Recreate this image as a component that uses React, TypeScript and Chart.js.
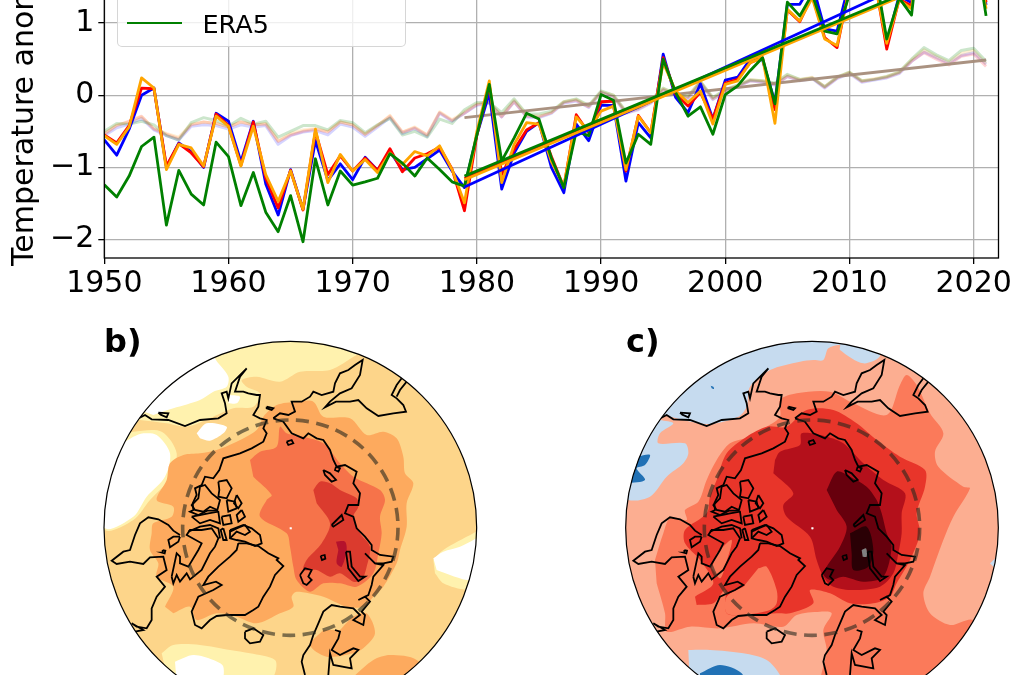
import React, { useEffect, useRef } from "react";
import { Chart, registerables } from "chart.js";

Chart.register(...registerables);

type P = [number, number];
const FONT = '"DejaVu Sans"';

const years = [
  1950, 1951, 1952, 1953, 1954, 1955, 1956, 1957, 1958, 1959,
  1960, 1961, 1962, 1963, 1964, 1965, 1966, 1967, 1968, 1969,
  1970, 1971, 1972, 1973, 1974, 1975, 1976, 1977, 1978, 1979,
  1980, 1981, 1982, 1983, 1984, 1985, 1986, 1987, 1988, 1989,
  1990, 1991, 1992, 1993, 1994, 1995, 1996, 1997, 1998, 1999,
  2000, 2001, 2002, 2003, 2004, 2005, 2006, 2007, 2008, 2009,
  2010, 2011, 2012, 2013, 2014, 2015, 2016, 2017, 2018, 2019,
  2020, 2021,
];

const arcticBlue = [
  -0.62, -0.83, -0.47, 0.0, 0.1, -1.0, -0.66, -0.78, -1.0, -0.25,
  -0.36, -0.92, -0.36, -1.23, -1.66, -1.03, -1.58, -0.63, -1.18, -0.95,
  -1.17, -0.86, -1.04, -0.78, -1.03, -1.0, -0.88, -0.76, -1.05, -1.28,
  -0.55, 0.03, -1.3, -0.8, -0.5, -0.38, -1.0, -1.35, -0.4, -0.63,
  -0.14, -0.14, -1.19, -0.38, -0.59, 0.57, -0.03, -0.24, 0.16, -0.33,
  0.21, 0.25, 0.5, 0.49, -0.1, 1.26, 1.26, 1.55, 0.92, 0.89,
  1.57, 1.85, 1.75, 0.72, 1.38, 1.28, 2.75, 2.1, 1.95, 2.25,
  2.35, 1.25,
];
const arcticRed = [
  -0.55, -0.66, -0.42, 0.1, 0.09, -0.98, -0.67, -0.8, -0.99, -0.26,
  -0.42, -0.97, -0.37, -1.15, -1.56, -1.04, -1.59, -0.5, -1.1, -0.84,
  -1.05, -0.87, -1.04, -0.74, -1.06, -0.87, -0.81, -0.72, -1.02, -1.6,
  -0.55, 0.14, -1.1, -0.75, -0.48, -0.38, -0.85, -1.27, -0.27, -0.52,
  -0.09, -0.08, -1.05, -0.28, -0.52, 0.52, 0.02, -0.15, 0.04, -0.33,
  0.17, 0.22, 0.45, 0.52, -0.2, 1.18, 1.02, 1.38, 0.8, 0.66,
  1.5, 1.7, 1.64, 0.64, 1.33, 1.24, 2.7, 2.05, 1.9, 2.2,
  2.3, 1.29,
];
const arcticOrange = [
  -0.56, -0.68, -0.44, 0.24, 0.1, -1.03, -0.68, -0.73, -0.98, -0.29,
  -0.43, -0.98, -0.43, -1.1, -1.47, -1.05, -1.58, -0.47, -1.21, -0.82,
  -1.05, -0.89, -1.07, -0.8, -0.96, -0.78, -0.84, -0.7, -1.03, -1.49,
  -0.5, 0.2, -1.21, -0.68, -0.38, -0.4, -0.92, -1.26, -0.3, -0.5,
  -0.22, -0.15, -1.03, -0.29, -0.52, 0.45, 0.06, -0.1, 0.06, -0.4,
  0.15, 0.2, 0.45, 0.52, -0.39, 1.19, 1.03, 1.35, 0.78, 0.69,
  1.48, 1.65, 1.6, 0.72, 1.32, 1.2, 2.6, 2.0, 1.85, 2.15,
  2.2, 1.2,
];
const arcticGreen = [
  -1.24, -1.41, -1.12, -0.71, -0.58, -1.8, -1.04, -1.37, -1.52, -0.65,
  -0.85, -1.53, -1.07, -1.62, -1.89, -1.39, -2.03, -0.88, -1.52, -1.05,
  -1.245, -1.2, -1.15, -0.81, -0.94, -1.12, -0.87, -1.03, -1.2, -1.26,
  -0.55, 0.15, -0.91, -0.59, -0.25, -0.33, -0.87, -1.28, -0.5, -0.56,
  0.01, -0.07, -0.94, -0.54, -0.68, 0.5, 0.04, -0.29, -0.16, -0.54,
  0.01, 0.13, 0.34, 0.52, -0.12, 1.29, 1.1, 1.4, 0.89, 0.85,
  1.4, 1.6, 1.78, 0.78, 1.35, 1.11, 2.65, 2.0, 1.9, 2.1,
  2.2, 1.1,
];

const globalBlue = [
  -0.56, -0.45, -0.4, -0.32, -0.48, -0.56, -0.62, -0.43, -0.41, -0.42,
  -0.47, -0.41, -0.44, -0.42, -0.68, -0.56, -0.51, -0.49, -0.55, -0.4,
  -0.44, -0.57, -0.44, -0.31, -0.53, -0.46, -0.57, -0.25, -0.36, -0.25,
  -0.14, -0.11, -0.3, -0.09, -0.3, -0.31, -0.25, -0.11, -0.08, -0.17,
  0.04, -0.02, -0.25, -0.2, -0.11, 0.07, 0.0, -0.05, 0.17, -0.06,
  0.05, 0.12, 0.2, 0.18, 0.14, 0.26, 0.2, 0.23, 0.1, 0.23,
  0.3, 0.18, 0.21, 0.24, 0.3, 0.47, 0.6, 0.52, 0.44, 0.55,
  0.59, 0.43,
];
const globalRed = [
  -0.54, -0.42, -0.36, -0.29, -0.47, -0.54, -0.6, -0.41, -0.37, -0.39,
  -0.44, -0.37, -0.41, -0.4, -0.64, -0.55, -0.5, -0.47, -0.51, -0.37,
  -0.41, -0.54, -0.42, -0.29, -0.51, -0.45, -0.55, -0.24, -0.35, -0.25,
  -0.13, -0.1, -0.3, -0.09, -0.29, -0.3, -0.24, -0.1, -0.07, -0.16,
  0.04, -0.02, -0.24, -0.19, -0.1, 0.08, 0.0, -0.03, 0.17, -0.05,
  0.05, 0.13, 0.2, 0.19, 0.15, 0.26, 0.21, 0.24, 0.11, 0.24,
  0.31, 0.19, 0.22, 0.25, 0.31, 0.47, 0.59, 0.5, 0.42, 0.54,
  0.57, 0.4,
];
const globalOrange = [
  -0.53, -0.41, -0.37, -0.3, -0.46, -0.53, -0.58, -0.4, -0.37, -0.39,
  -0.44, -0.37, -0.41, -0.39, -0.63, -0.53, -0.48, -0.46, -0.5, -0.37,
  -0.41, -0.54, -0.42, -0.28, -0.51, -0.44, -0.55, -0.23, -0.34, -0.23,
  -0.12, -0.09, -0.28, -0.07, -0.27, -0.29, -0.24, -0.09, -0.06, -0.15,
  0.05, 0.0, -0.23, -0.18, -0.09, 0.09, 0.02, -0.02, 0.19, -0.04,
  0.07, 0.14, 0.22, 0.2, 0.16, 0.28, 0.22, 0.25, 0.12, 0.25,
  0.32, 0.2, 0.23, 0.26, 0.32, 0.49, 0.63, 0.54, 0.46, 0.58,
  0.62, 0.44,
];
const globalGreen = [
  -0.5, -0.39, -0.4, -0.36, -0.41, -0.56, -0.62, -0.38, -0.31, -0.35,
  -0.43, -0.32, -0.4, -0.36, -0.58, -0.5, -0.42, -0.42, -0.48, -0.35,
  -0.38, -0.52, -0.41, -0.32, -0.55, -0.5, -0.58, -0.33, -0.39, -0.2,
  -0.1, -0.1, -0.24, -0.05, -0.26, -0.26, -0.22, -0.09, -0.05, -0.14,
  0.06, 0.0, -0.22, -0.17, -0.07, 0.1, 0.02, -0.01, 0.19, -0.03,
  0.08, 0.14, 0.21, 0.2, 0.17, 0.29, 0.22, 0.24, 0.12, 0.25,
  0.32, 0.2, 0.22, 0.26, 0.32, 0.5, 0.66, 0.56, 0.48, 0.62,
  0.65, 0.47,
];

const trendYears = [1979, 2021];
const trendBlue = [-1.27, 2.05];
const trendRed = [-1.15, 1.87];
const trendOrange = [-1.17, 1.86];
const trendGreen = [-1.12, 1.88];
const trendGlobal = [-0.31, 0.49];

// Map regions, in map units of the polar projection (pole near 601, 623).
const coastNorthAmerica: P[] = [[145,295],[165,285],[185,298],[235,300],[285,318],[330,300],[385,295],[410,280],[405,250],[395,220],[410,215],[415,235],[425,190],[470,145],[450,170],[435,215],[460,215],[475,220],[500,225],[510,225],[505,260],[490,285],[510,295],[530,300],[520,325],[530,340],[520,365],[485,385],[450,400],[400,415],[388,450],[370,475],[345,470],[335,495],[315,505],[320,525],[308,550],[310,570],[300,575],[325,585],[352,572],[382,572]];
const coastBay: P[] = [[270,645],[250,632],[235,615],[205,598],[175,592],[150,610],[135,645],[120,690],[100,695],[65,722],[80,732],[120,725],[160,732],[180,712],[220,710],[230,750],[200,770],[225,800],[200,830],[185,865],[185,900],[170,925],[140,920],[125,910],[160,930],[135,935]];
const coastBaffin: P[] = [[245,770],[260,700],[270,710],[270,730],[295,740],[325,690],[335,670],[290,645],[300,630],[335,630],[365,625],[385,655],[375,680],[360,700],[335,750],[300,778],[290,760],[270,785],[260,765],[250,790],[245,770]];
const coastGreenland: P[] = [[445,670],[440,690],[420,710],[385,740],[355,770],[340,795],[378,785],[395,795],[370,810],[325,830],[305,875],[315,915],[335,925],[360,900],[380,888],[410,885],[465,885],[490,870],[505,860],[520,830],[540,800],[555,765],[580,738],[560,720],[565,715],[535,700],[505,678],[470,670],[445,670]];
const coastBanks: P[] = [[385,485],[410,480],[425,505],[410,535],[385,530],[388,510],[385,485]];
const coastVictoria: P[] = [[330,500],[345,495],[365,520],[390,540],[382,570],[360,560],[340,575],[315,570],[305,555],[325,535],[330,500]];
const coastIsleA: P[] = [[410,540],[435,545],[440,565],[415,575],[410,540]];
const coastIsleB: P[] = [[440,525],[455,550],[445,565],[432,550],[440,525]];
const coastIsleC: P[] = [[455,570],[465,590],[445,605],[440,585],[455,570]];
const coastIsleD: P[] = [[395,590],[420,585],[425,610],[400,615],[395,590]];
const coastIsleE: P[] = [[305,590],[330,585],[355,580],[385,575],[390,610],[360,600],[330,610],[305,590]];
const coastIsleF: P[] = [[295,635],[330,620],[360,615],[385,625],[390,655]];
const coastEllesmere: P[] = [[420,630],[460,615],[485,625],[510,645],[515,670],[495,678],[465,665],[440,660],[420,655],[420,630]];
const coastEllesmereInner: P[] = [[420,635],[440,625],[465,615],[480,635],[465,645],[440,635],[420,655]];
const coastIsleG: P[] = [[400,625],[410,660],[400,660],[392,630],[400,625]];
const coastSouthampton: P[] = [[270,650],[250,650],[235,660],[240,682],[265,665],[270,650]];
const coastSiberia: P[] = [[550,295],[580,305],[605,340],[640,355],[655,340],[680,355],[700,360],[720,390],[730,420],[740,440],[765,435],[800,455],[790,490],[810,520],[805,555],[775,555],[765,580],[790,590],[800,625],[825,650],[845,675],[845,690],[870,705],[910,710],[905,725],[880,730],[855,730],[825,700],[855,730],[880,735],[850,770],[845,795],[835,825],[805,840],[825,830],[840,845],[815,875],[825,885],[820,915],[790,900],[810,885],[790,865],[750,860],[725,855],[700,875],[685,910],[670,945],[660,975],[640,1005],[635,1025],[645,1065]];
const coastChukotka: P[] = [[550,295],[570,280],[595,285],[615,275],[605,245],[635,245],[660,230],[670,215],[695,225],[730,215],[735,190],[750,160],[775,150],[795,135],[818,120],[810,165],[785,205],[750,220],[720,245],[705,262],[738,245],[780,245],[805,240],[830,265],[865,288],[910,280],[948,275],[940,255],[920,235],[905,225],[920,195],[935,175]];
const coastKamchatkaEdge: P[] = [[950,185],[930,210],[920,230]];
const coastBaltic: P[] = [[735,930],[750,935],[745,955],[725,990],[750,1005],[790,985],[805,990],[780,1015],[785,1045],[730,1035],[720,1000],[715,1065]];
const coastNovaya: P[] = [[768,695],[780,695],[785,740],[810,770],[825,770],[805,783],[775,745],[768,695]];
const coastSevernaya: P[] = [[725,615],[755,585],[760,600],[730,620],[725,615]];
const coastSvalbard: P[] = [[630,765],[645,745],[665,750],[655,770],[665,780],[650,795],[640,790],[630,765]];
const coastFranzJosef: P[] = [[692,708],[704,705],[706,716],[696,720],[692,708]];
const coastNewSiberia: P[] = [[590,365],[605,360],[610,370],[595,375],[590,365]];
const coastWrangel: P[] = [[530,260],[550,265],[545,270],[530,265],[530,260]];
const coastLyakhov: P[] = [[700,450],[720,460],[738,480],[725,485],[705,465],[700,450]];
const coastSmall: P[] = [[738,440],[750,445],[745,455],[735,450],[738,440]];
const coastSakhalin: P[] = [[205,278],[235,280],[230,292],[212,284],[205,278]];
const coastIceland: P[] = [[465,935],[490,925],[520,945],[510,965],[480,970],[465,955],[465,935]];
const coastDotBay: P[] = [[218,690],[226,692],[224,700],[217,698],[218,690]];

const coasts: P[][] = [
  coastNorthAmerica, coastBay, coastBaffin, coastGreenland, coastBanks, coastVictoria,
  coastIsleA, coastIsleB, coastIsleC, coastIsleD, coastIsleE, coastIsleF, coastEllesmere,
  coastEllesmereInner, coastIsleG, coastSouthampton, coastSiberia, coastChukotka, coastKamchatkaEdge, coastBaltic,
  coastNovaya, coastSevernaya, coastSvalbard, coastFranzJosef, coastNewSiberia, coastWrangel,
  coastLyakhov, coastSmall, coastSakhalin, coastIceland, coastDotBay,
];

// Panel b) shaded regions
const bYellowTop: P[] = [[60,300],[140,180],[350,60],[600,20],[850,80],[800,105],[720,150],[630,155],[570,185],[500,170],[455,180],[470,200],[510,220],[490,260],[430,265],[370,290],[290,320],[230,310],[150,300]];
const bYellowLeft: P[] = [[100,345],[130,335],[215,335],[260,400],[235,480],[180,540],[130,600],[45,630],[10,500]];
const bYellowRight: P[] = [[1030,720],[1060,690],[1150,640],[1190,620],[1190,800],[1130,810],[1060,790],[1035,760]];
const bYellowBottom: P[] = [[215,1000],[250,975],[330,975],[420,990],[480,1000],[555,1020],[555,1060],[520,1110],[240,1110]];
const bWhiteTop: P[] = [[120,260],[200,170],[350,90],[385,130],[415,170],[410,200],[370,215],[330,240],[250,265],[190,285]];
const bWhiteCoast: P[] = [[420,225],[450,230],[440,250],[415,250]];
const bWhiteMid: P[] = [[320,340],[350,310],[410,320],[400,340],[360,362],[330,355]];
const bWhiteLeft: P[] = [[130,350],[160,340],[200,345],[240,400],[225,470],[170,530],[130,590],[45,625],[20,500],[80,380]];
const bWhiteRight: P[] = [[1030,715],[1060,695],[1110,680],[1150,660],[1190,640],[1190,780],[1130,780],[1080,765],[1040,750]];
const bWhiteBottom: P[] = [[255,1025],[310,1005],[370,1020],[400,1040],[390,1090],[260,1090]];
const bOrange: P[] = [[225,860],[250,800],[200,770],[205,730],[180,690],[185,640],[190,610],[245,590],[250,560],[200,540],[230,480],[240,430],[280,405],[330,400],[380,390],[430,370],[500,330],[520,290],[560,255],[620,245],[670,245],[700,290],[780,295],[830,345],[880,335],[920,355],[940,410],[945,460],[970,490],[950,550],[950,620],[930,690],[920,730],[880,800],[850,830],[820,860],[770,860],[700,830],[620,815],[605,830],[610,860],[570,880],[500,910],[440,890],[380,880],[320,900],[300,860],[250,880]];
const bOrangeSouth: P[] = [[750,930],[790,890],[830,880],[855,940],[820,985],[790,1000],[710,1010],[660,975],[700,930]];
const bOrangeCorner: P[] = [[790,1070],[850,1020],[900,1005],[980,1020],[1050,1110],[800,1110]];
const bRedOrange: P[] = [[480,420],[510,395],[560,380],[570,320],[590,340],[640,350],[700,370],[750,430],[790,470],[870,510],[885,540],[870,590],[875,640],[865,700],[850,760],[800,800],[750,790],[700,790],[660,815],[620,780],[610,740],[600,680],[590,640],[510,590],[530,540],[545,525],[490,470]];
const bRed: P[] = [[670,510],[690,485],[720,490],[750,510],[800,535],[805,560],[790,590],[810,640],[840,680],[830,740],[815,780],[790,785],[750,760],[720,770],[680,750],[640,750],[650,720],[695,670],[720,610],[680,550]];
const bCrimson: P[] = [[738,665],[765,665],[770,690],[755,740],[740,730],[745,690]];
const poleDot: P[] = [[599,622],[605,622],[605,628],[599,628]];

// Panel c) shaded regions
const cPaleBlueTop: P[] = [[160,285],[290,312],[385,290],[410,260],[420,200],[480,150],[570,125],[610,120],[640,120],[655,85],[690,75],[690,90],[760,130],[810,105],[720,20],[400,20],[100,180]];
const cPaleBlueLeft: P[] = [[150,300],[190,310],[150,340],[145,370],[225,370],[235,400],[220,430],[170,470],[120,530],[55,540],[10,500],[90,340]];
const cBlueLeft: P[] = [[50,430],[85,410],[120,405],[105,435],[80,445],[105,480],[50,490]];
const cBlueSpot: P[] = [[302,197],[310,200],[312,207],[305,205]];
const cPaleBlueBottom: P[] = [[235,990],[300,990],[400,1000],[470,1020],[510,1065],[520,1110],[240,1110]];
const cBlueBottom: P[] = [[270,1060],[330,1035],[395,1060],[405,1110],[270,1110]];
const cPaleBlueRight: P[] = [[1140,730],[1160,715],[1170,745],[1150,740]];
const cMid: P[] = [[135,720],[160,640],[180,595],[230,600],[225,570],[265,545],[290,480],[320,420],[360,370],[420,350],[470,320],[510,290],[510,240],[560,220],[660,215],[730,250],[830,285],[870,195],[890,165],[920,195],[960,280],[1000,340],[975,395],[985,440],[1060,500],[1080,505],[1030,590],[1000,660],[960,770],[940,820],[960,880],[1020,915],[1090,900],[1190,1000],[1100,1110],[640,1110],[650,990],[640,930],[665,880],[630,875],[560,885],[520,920],[430,910],[330,925],[240,920],[170,935],[165,880],[140,790]];
const cSalmonKamchatka: P[] = [[750,190],[785,165],[780,185],[755,195]];
const cSalmonSpot: P[] = [[1000,280],[1025,275],[1020,300],[1000,305]];
const cRed: P[] = [[255,830],[310,790],[270,720],[225,670],[225,630],[290,580],[300,530],[320,480],[350,400],[410,350],[470,320],[530,320],[590,270],[670,270],[740,310],[800,360],[870,410],[945,450],[945,500],[920,580],[930,640],[900,720],[860,790],[840,830],[790,850],[720,850],[660,820],[600,810],[610,850],[540,880],[500,880],[400,885],[350,880],[345,810],[310,850],[260,855]];
const cMidGreenland: P[] = [[445,745],[470,740],[500,810],[500,850],[480,870],[400,885],[350,880],[350,830],[400,800]];
const cMidBaffin: P[] = [[320,700],[365,660],[345,740],[330,775],[305,745]];
const cDarkRed: P[] = [[495,420],[510,395],[570,375],[575,340],[650,350],[700,370],[760,430],[820,480],[885,520],[875,580],[875,640],[865,700],[850,760],[810,800],[730,810],[670,800],[640,770],[620,720],[600,650],[530,590],[520,555],[550,520],[490,460]];
const cDarkest: P[] = [[650,510],[680,455],[720,470],[770,500],[800,540],[815,580],[830,640],[845,680],[820,770],[760,785],[700,770],[660,780],[640,760],[690,680],[710,620],[680,570]];
const cNearBlack: P[] = [[720,640],[770,620],[790,690],[775,740],[730,750],[725,700]];
const cGray: P[] = [[755,690],[768,685],[770,710],[758,710]];

const seriesPoints = (ys: number[], xs: number[] = years) => xs.map((x, i) => ({ x, y: ys[i] }));

const lineSet = (label: string, ys: number[], color: string, width: number, xs?: number[]) => ({
  label,
  data: seriesPoints(ys, xs),
  borderColor: color,
  backgroundColor: color,
  borderWidth: width,
  pointRadius: 0,
  showLine: true,
  fill: false,
  borderJoinStyle: "round" as const,
});

function buildTop(canvas: HTMLCanvasElement) {
  const sets = [
    lineSet("Global NASA-GISS", globalBlue, "rgba(0,0,255,0.17)", 3),
    lineSet("Global BEST", globalRed, "rgba(255,0,0,0.17)", 3),
    lineSet("Global HadCRUT5", globalOrange, "rgba(255,165,0,0.17)", 3),
    lineSet("Global ERA5", globalGreen, "rgba(0,128,0,0.2)", 3),
    lineSet("Global trend", trendGlobal, "rgba(165,140,122,0.95)", 3, trendYears),
    lineSet("NASA-GISS", arcticBlue, "#0000ff", 2.8),
    lineSet("BEST", arcticRed, "#ff0000", 2.8),
    lineSet("HadCRUT5", arcticOrange, "#ffa500", 2.8),
    lineSet("ERA5", arcticGreen, "#008000", 2.8),
    lineSet("NASA-GISS trend", trendBlue, "#0000ff", 2.8, trendYears),
    lineSet("BEST trend", trendRed, "#ff0000", 2.8, trendYears),
    lineSet("HadCRUT5 trend", trendOrange, "#ffa500", 2.8, trendYears),
    lineSet("ERA5 trend", trendGreen, "#008000", 2.8, trendYears),
  ].map((d, i, all) => ({ ...d, order: all.length - i }));

  const frame = {
    id: "frame",
    afterDraw(chart: any) {
      const { ctx, chartArea: a } = chart;
      ctx.save();
      ctx.strokeStyle = "#000";
      ctx.lineWidth = 1.3;
      ctx.strokeRect(a.left, a.top, a.right - a.left, a.bottom - a.top);
      ctx.restore();
    },
  };

  return new Chart(canvas, {
    type: "scatter",
    data: { datasets: sets as any },
    plugins: [frame],
    options: {
      animation: false,
      responsive: false,
      events: [],
      layout: { padding: { left: 0, right: 21.5, top: 76, bottom: 0 } },
      plugins: { legend: { display: false }, tooltip: { enabled: false } },
      scales: {
        x: {
          type: "linear",
          min: 1950,
          max: 2022,
          afterFit: (s: any) => { s.height = 42; },
          afterBuildTicks: (s: any) => { s.ticks = [1950,1960,1970,1980,1990,2000,2010,2020].map((value) => ({ value })); },
          grid: { color: "#b0b0b0", lineWidth: 1.3, tickLength: 6, tickColor: "#000", tickWidth: 1.3 },
          border: { display: false },
          ticks: {
            autoSkip: false, maxRotation: 0, padding: 2, color: "#000",
            font: { family: FONT, size: 30 },
            callback: (v: any) => String(v),
          },
        },
        y: {
          min: -2.255,
          max: 3.038,
          afterFit: (s: any) => { s.width = 104.3; },
          afterBuildTicks: (s: any) => { s.ticks = [-2,-1,0,1,2,3].map((value) => ({ value })); },
          grid: { color: "#b0b0b0", lineWidth: 1.3, tickLength: 6, tickColor: "#000", tickWidth: 1.3 },
          border: { display: false },
          title: {
            display: true,
            text: "Temperature anomaly (°C)",
            color: "#000",
            font: { family: FONT, size: 30 },
            padding: { top: 7, bottom: 0 },
          },
          ticks: {
            padding: 4, color: "#000",
            font: { family: FONT, size: 30 },
            callback: (v: any) => String(v).replace("-", "\u2212"),
          },
        },
      },
    } as any,
  });
}

const toPts = (pts: P[]) => pts.map(([x, y]) => ({ x, y }));

const region = (pts: P[], color: string) => ({
  data: toPts(pts),
  showLine: true,
  fill: "shape",
  borderWidth: 0,
  pointRadius: 0,
  tension: 0.3,
  backgroundColor: color,
  borderColor: color,
});

const coast = (pts: P[], axis: string) => ({
  data: toPts(pts),
  showLine: true,
  fill: false,
  borderWidth: 1.8,
  borderColor: "#000",
  pointRadius: 0,
  xAxisID: axis,
});

function buildMap(canvas: HTMLCanvasElement, base: string, regions: any[], cx: number, cy: number, coastShift: number) {
  const sets = [...regions, ...coasts.map((c) => coast(c, "xCoast"))].map((d, i, all) => ({ ...d, order: all.length - i }));

  const disc = {
    id: "disc",
    beforeDatasetsDraw(chart: any) {
      const { ctx, scales } = chart;
      const x = scales.x.getPixelForValue(cx);
      const y = scales.y.getPixelForValue(cy);
      const r = scales.x.getPixelForValue(cx + 559) - x;
      ctx.save();
      ctx.beginPath();
      ctx.arc(x, y, r, 0, Math.PI * 2);
      ctx.fillStyle = base;
      ctx.fill();
      ctx.clip();
    },
    afterDatasetsDraw(chart: any) {
      const { ctx, scales } = chart;
      ctx.restore();
      const x = scales.x.getPixelForValue(cx);
      const y = scales.y.getPixelForValue(cy);
      const r = scales.x.getPixelForValue(cx + 559) - x;
      const rr = scales.x.getPixelForValue(cx + 323) - x;
      ctx.save();
      ctx.beginPath();
      ctx.arc(x, y, rr, 0, Math.PI * 2);
      ctx.strokeStyle = "rgba(40,40,30,0.6)";
      ctx.lineWidth = 3.6;
      ctx.setLineDash([13, 7.5]);
      ctx.stroke();
      ctx.restore();
      ctx.save();
      ctx.beginPath();
      ctx.arc(x, y, r, 0, Math.PI * 2);
      ctx.strokeStyle = "#000";
      ctx.lineWidth = 1.2;
      ctx.stroke();
      ctx.restore();
    },
  };

  return new Chart(canvas, {
    type: "scatter",
    data: { datasets: sets as any },
    plugins: [disc],
    options: {
      animation: false,
      responsive: false,
      events: [],
      layout: { padding: 0 },
      plugins: { legend: { display: false }, tooltip: { enabled: false } },
      scales: {
        x: { type: "linear", min: 0, max: 1200, display: false },
        xCoast: { type: "linear", axis: "x", min: -coastShift, max: 1200 - coastShift, display: false },
        y: { type: "linear", min: 0, max: 1200, reverse: true, display: false },
      },
    } as any,
  });
}

const bRegions = () => [
  region(bYellowTop, "#fff2ae"),
  region(bYellowLeft, "#fff2ae"),
  region(bYellowRight, "#fff2ae"),
  region(bYellowBottom, "#fff2ae"),
  region(bWhiteTop, "#ffffff"),
  region(bWhiteCoast, "#ffffff"),
  region(bWhiteMid, "#ffffff"),
  region(bWhiteLeft, "#ffffff"),
  region(bWhiteRight, "#ffffff"),
  region(bWhiteBottom, "#ffffff"),
  region(bOrange, "#fdaa5e"),
  region(bOrangeSouth, "#fdaa5e"),
  region(bOrangeCorner, "#fdaa5e"),
  region(bRedOrange, "#f6734a"),
  region(bRed, "#db3b2e"),
  region(bCrimson, "#b5122c"),
  region(poleDot, "#ffffff"),
];

const cRegions = () => [
  region(cPaleBlueTop, "#c6dbef"),
  region(cPaleBlueLeft, "#c6dbef"),
  region(cBlueLeft, "#2171b5"),
  region(cBlueSpot, "#2171b5"),
  region(cPaleBlueBottom, "#c6dbef"),
  region(cBlueBottom, "#2171b5"),
  region(cPaleBlueRight, "#c6dbef"),
  region(cMid, "#fb7a5a"),
  region(cSalmonKamchatka, "#fcae91"),
  region(cSalmonSpot, "#fcae91"),
  region(cRed, "#e8352a"),
  region(cMidGreenland, "#fb7a5a"),
  region(cMidBaffin, "#fb7a5a"),
  region(cDarkRed, "#b4101b"),
  region(cDarkest, "#67000d"),
  region(cNearBlack, "#2a0005"),
  region(cGray, "#808080"),
  region(poleDot.map(([x, y]) => [x + 5, y] as P), "#ffffff"),
];

const abs = (left: number, top: number): React.CSSProperties => ({ position: "absolute", left, top });

export default function App() {
  const topRef = useRef<HTMLCanvasElement>(null);
  const bRef = useRef<HTMLCanvasElement>(null);
  const cRef = useRef<HTMLCanvasElement>(null);

  useEffect(() => {
    document.body.style.margin = "0";
    document.body.style.overflow = "hidden";
    const charts = [
      buildTop(topRef.current!),
      buildMap(bRef.current!, "#fdd58a", bRegions(), 601, 623, 0),
      buildMap(cRef.current!, "#fcae91", cRegions(), 606, 623, 5),
    ];
    return () => charts.forEach((c) => c.destroy());
  }, []);

  return (
    <div style={{ position: "relative", width: 1020, height: 675, overflow: "hidden", background: "#fff", fontFamily: FONT, color: "#000" }}>
      <canvas ref={topRef} width={1020} height={500} style={{ ...abs(0, -200), display: "block" }} />
      <canvas ref={bRef} width={400} height={400} style={{ ...abs(90, 320), display: "block" }} />
      <canvas ref={cRef} width={400} height={400} style={{ ...abs(610, 320), display: "block" }} />
      <div style={{ ...abs(117, -100), width: 289, height: 147, boxSizing: "border-box", background: "rgba(255,255,255,0.8)", border: "1.5px solid rgba(204,204,204,0.8)", borderRadius: 5 }} />
      <div style={{ ...abs(127, 21.7), width: 55, height: 2.8, background: "#008000" }} />
      <div style={{ ...abs(202.5, 8.5), fontSize: 25.5, lineHeight: "30px" }}>ERA5</div>
      <div style={{ ...abs(104, 321), fontSize: 32, lineHeight: "40px", fontWeight: 700 }}>b)</div>
      <div style={{ ...abs(626, 321), fontSize: 32, lineHeight: "40px", fontWeight: 700 }}>c)</div>
    </div>
  );
}
